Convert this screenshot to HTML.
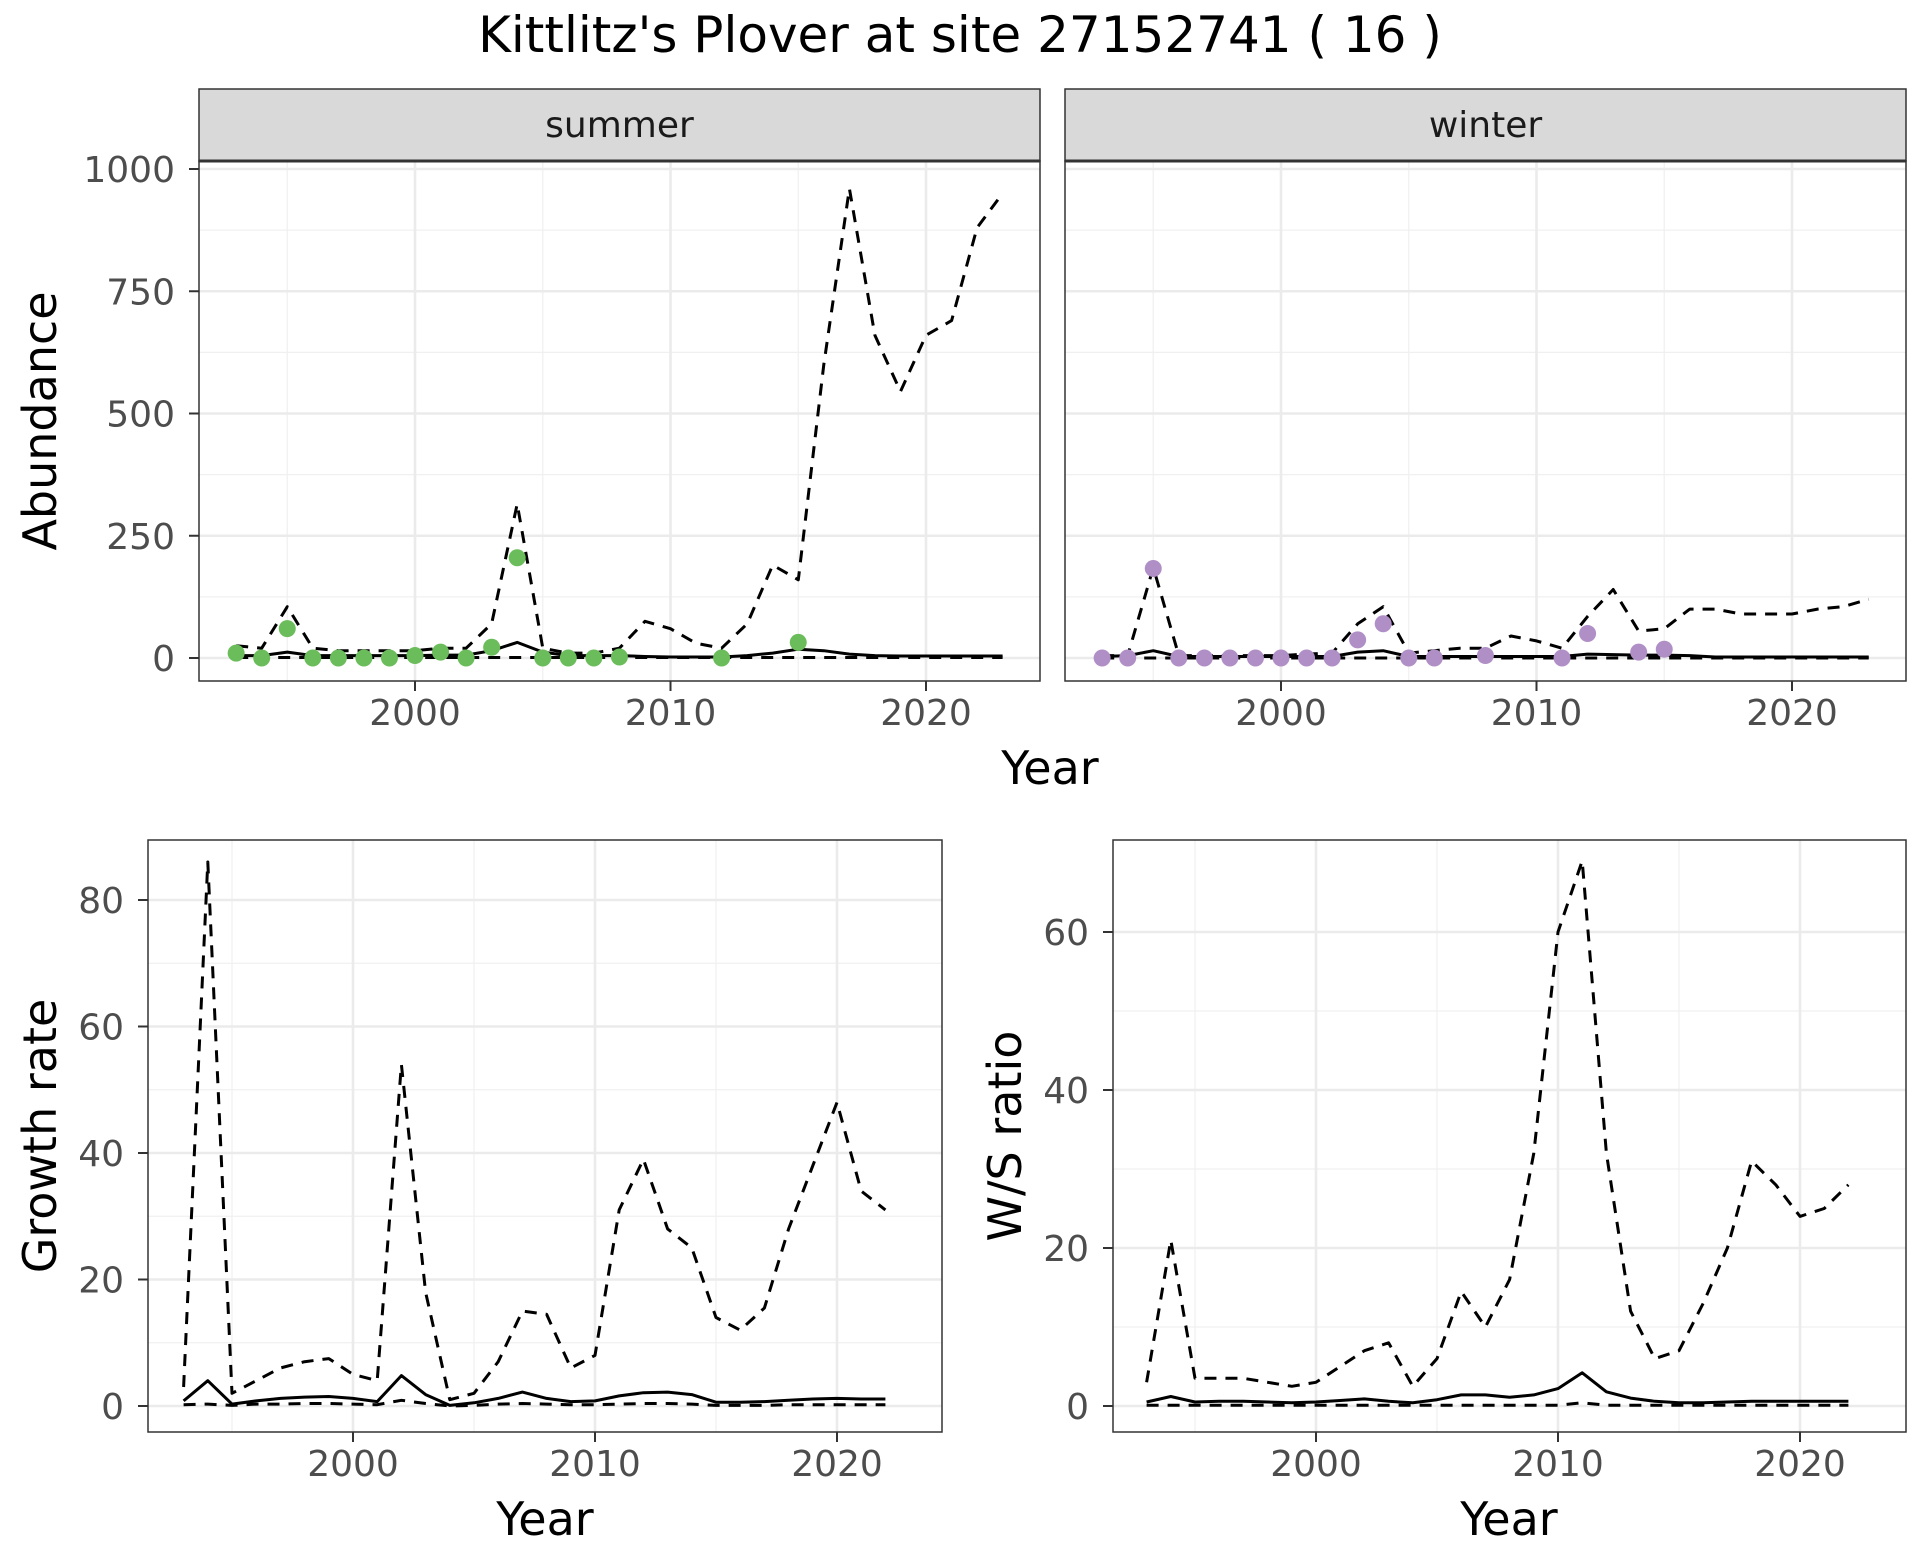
<!DOCTYPE html>
<html><head><meta charset="utf-8"><style>
html,body{margin:0;padding:0;background:#fff}
svg{display:block;font-family:"DejaVu Sans","Liberation Sans",sans-serif}
</style></head><body>
<svg id="chart" width="1920" height="1560" viewBox="0 0 1920 1560">
<text x="960" y="52" text-anchor="middle" font-size="50" fill="#000">Kittlitz's Plover at site 27152741 ( 16 )</text>
</svg>
<script>
const yearsA = [1993,1994,1995,1996,1997,1998,1999,2000,2001,2002,2003,2004,2005,2006,2007,2008,2009,2010,2011,2012,2013,2014,2015,2016,2017,2018,2019,2020,2021,2022,2023];
const summerUpper = [25,20,105,20,15,15,15,15,20,20,70,315,20,10,10,20,75,60,30,20,70,190,160,600,960,660,545,660,690,880,950];
const summerMean = [5,5,12,5,5,5,5,5,6,6,15,32,12,5,5,5,3,2,2,2,5,10,18,15,8,5,4,4,4,4,4];
const summerLower = [1,1,1,1,1,1,1,1,1,1,1,1,1,1,1,1,1,1,1,1,1,1,1,1,1,1,1,1,1,1,1];
const summerPtYears = [1993,1994,1995,1996,1997,1998,1999,2000,2001,2002,2003,2004,2005,2006,2007,2008,2012,2015];
const summerPtVals = [10,0,60,0,0,0,0,5,12,0,22,205,0,0,0,2,0,32];
const winterUpper = [5,5,185,5,5,5,5,5,8,10,70,105,10,15,20,20,45,35,20,85,140,55,60,100,100,90,90,90,100,105,120];
const winterMean = [3,5,15,3,3,3,3,3,3,3,12,15,3,3,3,3,3,3,3,8,7,6,6,5,2,2,2,2,2,2,2];
const winterLower = [0,0,0,0,0,0,0,0,0,0,0,0,0,0,0,0,0,0,0,0,0,0,0,0,0,0,0,0,0,0,0];
const winterPtYears = [1993,1994,1995,1996,1997,1998,1999,2000,2001,2002,2003,2004,2005,2006,2008,2011,2012,2014,2015];
const winterPtVals = [0,0,183,0,0,0,0,0,0,0,37,70,0,0,5,0,50,12,18];
const yearsB = [1993,1994,1995,1996,1997,1998,1999,2000,2001,2002,2003,2004,2005,2006,2007,2008,2009,2010,2011,2012,2013,2014,2015,2016,2017,2018,2019,2020,2021,2022];
const growthUpper = [3,86,2,4,6,7,7.5,5,4,54,18,1,2,7,15,14.5,6,8,31,39,28,25,14,12,15.5,28,38,48,34,31];
const growthMean = [0.8,4,0.3,0.8,1.2,1.4,1.5,1.2,0.7,4.8,1.8,0.1,0.5,1.2,2.2,1.2,0.7,0.8,1.6,2.1,2.2,1.8,0.6,0.6,0.7,0.9,1.1,1.2,1.1,1.1];
const growthLower = [0.2,0.3,0.1,0.3,0.3,0.4,0.4,0.3,0.2,0.9,0.4,0,0.1,0.3,0.4,0.3,0.2,0.2,0.3,0.4,0.4,0.3,0.1,0.1,0.1,0.2,0.2,0.2,0.2,0.2];
const ratioUpper = [3,21,3.5,3.5,3.5,3,2.5,3,5,7,8,2.5,6,14.5,10,16,32,60,69,32,12,6,7,13,20,31,28,24,25,28];
const ratioMean = [0.5,1.2,0.5,0.6,0.6,0.5,0.4,0.5,0.7,0.9,0.6,0.4,0.8,1.4,1.4,1.1,1.4,2.2,4.2,1.8,1,0.6,0.4,0.4,0.5,0.6,0.6,0.6,0.6,0.6];
const ratioLower = [0.1,0.1,0.1,0.1,0.1,0.1,0.1,0.1,0.1,0.1,0.1,0.1,0.1,0.1,0.1,0.1,0.1,0.1,0.4,0.1,0.1,0.1,0.1,0.1,0.1,0.1,0.1,0.1,0.1,0.1];
const abTicks = [0,250,500,750,1000];
const growthTicks = [0,20,40,60,80];
const ratioTicks = [0,20,40,60];
const yearTicks = [2000,2010,2020];

const NS='http://www.w3.org/2000/svg';
const svg=document.getElementById('chart');
function mk(tag,attrs,parent){const e=document.createElementNS(NS,tag);for(const k in attrs)e.setAttribute(k,attrs[k]);(parent||svg).appendChild(e);return e;}

function panel(p){
  const g=mk('g',{});
  
  
  const sx=y=>p.x0+(y-p.yr0)*p.xs;
  const sy=v=>p.y0-v*p.ys;
  mk('rect',{x:p.L,y:p.T,width:p.R-p.L,height:p.B-p.T,fill:'#fff'},g);
  for(let i=0;i<p.yt.length-1;i++){const v=(p.yt[i]+p.yt[i+1])/2;const y=sy(v);mk('line',{x1:p.L,x2:p.R,y1:y,y2:y,stroke:'#f0f0f0','stroke-width':1.3},g);}
  const minorX=[1995,2005,2015];
  minorX.forEach(v=>{const x=sx(v);mk('line',{x1:x,x2:x,y1:p.T,y2:p.B,stroke:'#f0f0f0','stroke-width':1.3},g);});
  p.yt.forEach(v=>{const y=sy(v);mk('line',{x1:p.L,x2:p.R,y1:y,y2:y,stroke:'#ebebeb','stroke-width':2.6},g);});
  yearTicks.forEach(v=>{const x=sx(v);mk('line',{x1:x,x2:x,y1:p.T,y2:p.B,stroke:'#ebebeb','stroke-width':2.6},g);});
  const line=(xs,vs,dash,nm)=>{const pts=xs.map((y,i)=>sx(y).toFixed(1)+','+sy(vs[i]).toFixed(1)).join(' ');
    const l=mk('polyline',{points:pts,fill:'none',stroke:'#000','stroke-width':3,'stroke-dasharray':dash?'12,9':'none','stroke-linejoin':'round'},g);
    
    };
  line(p.xs_,p.lower,true,'lower-bound-line');
  line(p.xs_,p.upper,true,'upper-bound-line');
  line(p.xs_,p.mean,false,'mean-line');
  if(p.ptx){p.ptx.forEach((y,i)=>{const c=mk('circle',{cx:sx(y),cy:sy(p.pty[i]),r:8.5,fill:p.col},g);
    
    });}
  mk('rect',{x:p.L,y:p.T,width:p.R-p.L,height:p.B-p.T,fill:'none',stroke:'#333','stroke-width':1.5},g);
  if(p.strip){
    const s=mk('rect',{x:p.L,y:p.T-72,width:p.R-p.L,height:72,fill:'#d9d9d9',stroke:'#333','stroke-width':1.5},g);
    
    
    mk('line',{x1:p.L,x2:p.R,y1:p.T,y2:p.T,stroke:'#333','stroke-width':3},g);
    const t=mk('text',{x:(p.L+p.R)/2,y:p.T-24,'text-anchor':'middle','font-size':36,fill:'#1a1a1a'},g);t.textContent=p.strip;
  }
  if(p.showY){p.yt.forEach(v=>{const y=sy(v);mk('line',{x1:p.L-10,x2:p.L,y1:y,y2:y,stroke:'#333','stroke-width':2},g);
    const t=mk('text',{x:p.L-24,y:y+13,'text-anchor':'end','font-size':36,fill:'#4d4d4d'},g);t.textContent=v;
    
    });}
  yearTicks.forEach(v=>{const x=sx(v);mk('line',{x1:x,x2:x,y1:p.B,y2:p.B+10,stroke:'#333','stroke-width':2},g);
    const t=mk('text',{x:x,y:p.B+44,'text-anchor':'middle','font-size':36,fill:'#4d4d4d'},g);t.textContent=v;
    
    });
  if(p.ytitle){const t=mk('text',{x:0,y:0,transform:`translate(${p.ytx},${(p.T+p.B)/2}) rotate(-90)`,'text-anchor':'middle','font-size':46,fill:'#000'},g);t.textContent=p.ytitle;
    
    }
  if(p.xtitle){const t=mk('text',{x:p.xtx,y:p.xty,'text-anchor':'middle','font-size':46,fill:'#000'},g);t.textContent='Year';
    
    }
}
const abYs=(658-169)/1000;
panel({name:'summer-panel',L:199,R:1040,T:161,B:681,x0:415,yr0:2000,xs:25.55,y0:658,ys:abYs,yt:abTicks,xs_:yearsA,upper:summerUpper,mean:summerMean,lower:summerLower,ptx:summerPtYears,pty:summerPtVals,col:'#6abd5a',strip:'summer',showY:true,ytitle:'Abundance',ytx:56});
panel({name:'winter-panel',L:1065,R:1906,T:161,B:681,x0:1281,yr0:2000,xs:25.55,y0:658,ys:abYs,yt:abTicks,xs_:yearsA,upper:winterUpper,mean:winterMean,lower:winterLower,ptx:winterPtYears,pty:winterPtVals,col:'#b08fc7',strip:'winter',showY:false,xtitle:true,xtx:1050,xty:784});
panel({name:'growth-rate-panel',L:148,R:942,T:840,B:1432,x0:353,yr0:2000,xs:24.2,y0:1406,ys:(1406-900)/80,yt:growthTicks,xs_:yearsB,upper:growthUpper,mean:growthMean,lower:growthLower,showY:true,ytitle:'Growth rate',ytx:56,xtitle:true,xtx:545,xty:1535});
panel({name:'ws-ratio-panel',L:1113,R:1906,T:840,B:1432,x0:1316,yr0:2000,xs:24.2,y0:1406,ys:(1406-932)/60,yt:ratioTicks,xs_:yearsB,upper:ratioUpper,mean:ratioMean,lower:ratioLower,showY:true,ytitle:'W/S ratio',ytx:1021,xtitle:true,xtx:1509,xty:1535});
</script>
</body></html>
